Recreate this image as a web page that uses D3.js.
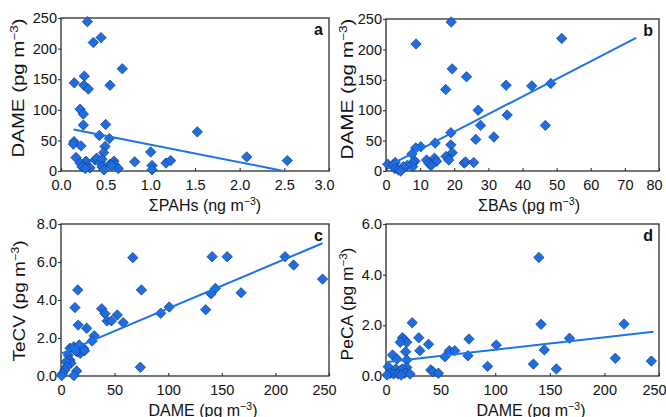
<!DOCTYPE html>
<html>
<head>
<meta charset="utf-8">
<script src="https://cdn.jsdelivr.net/npm/d3@7"></script>
<style>
body { margin: 0; background: #fff; }
text { font-family: "Liberation Sans", Arial, sans-serif; fill: #111; }
</style>
</head>
<body>
<svg id="chart" width="666" height="417"></svg>
<script>
// values
var pahsA = [0.295,0.448,0.362,0.686,0.261,0.149,0.257,0.306,0.549,0.213,
  0.250,0.250,0.500,0.429,0.541,0.146,0.138,0.224,0.493,0.478,
  1.004,1.526,2.079,2.533,0.825,0.168,0.280,0.381,0.400,0.437,
  0.459,0.213,0.235,0.306,0.325,0.459,0.481,0.549,0.593,0.604,
  0.641,0.567,1.019,1.019,1.175,1.228,0.272];
var dameA = [244,218,210,167,155,144,140,134,140,101,
  93,75,76,58,53,48,44,41,40,30,
  31,64,23,17,15,22,16,18,21,14,
  19,13,7,7,5,7,2,11,16,10,
  4,9,9,2,13,17,4];

var basB = [19.1,8.8,51.5,19.4,23.6,17.5,35.2,42.7,48.3,27.0,
  35.5,27.7,46.7,31.6,26.3,19.0,14.4,19.0,10.2,8.7,
  7.6,19.4,17.6,14.2,14.8,11.9,12.5,13.2,18.4,22.9,
  23.3,25.7,8.5,7.8,7.8,6.2,5.1,0.5,2.7,2.1,
  2.6,3.6,4.3];
var dameB = [245,209,218,168,155,134,141,140,144,100,
  92,75,75,56,52,63,46,43,40,38,
  28,30,24,21,16,18,13,9,18,13,
  15,14,16,14,7,9,7,11,14,10,
  4,2,0];

var dameC = [67,141,155,209,217,244,15.6,75,168,144,
  140,13,38,41,43,47,52.5,58,93,101,
  135,16,24,31,29,74,8.4,12,17,18,
  15,21,14,22,6.8,8.4,9.3,4.7,5.3,3.7,
  1.6,0.6,14.6,12];
var tecvC = [6.23,6.28,6.28,6.28,5.84,5.1,4.53,4.53,4.38,4.61,
  4.32,3.6,3.54,3.28,2.9,2.9,3.21,2.81,3.3,3.63,
  3.49,2.68,2.51,2.12,1.84,0.46,1.46,1.54,1.63,1.19,
  1.28,1.46,1.32,1.33,1.1,0.84,0.67,0.75,0.49,0.32,
  0.14,0.02,0.26,0.02];

var dameD = [140,24,142,218,30,15,17,19,13,76,
  168,101,39,31,18,58,63,145,6,54,
  75,10,19,210,243,2,19,93,135,156,
  41,43,48,9,13,15,4,7,11,17,
  22,1,14];
var pecaD = [4.68,2.1,2.04,2.05,1.51,1.51,1.42,1.33,1.33,1.46,
  1.49,1.22,1.25,1.0,0.96,1.0,1.0,1.03,0.83,0.76,
  0.8,0.67,0.63,0.7,0.59,0.37,0.34,0.38,0.47,0.28,
  0.24,0.17,0.11,0.28,0.21,0.28,0.11,0.08,0.08,0.11,
  0.08,0.04,0.04];

// regression lines: [intercept, slope, xStart, xEnd]
var fitA = [72, -28.8, 0.14, 2.48];
var fitB = [6.5, 2.9, 2.1, 73.3];
var fitC = [1.18, 0.0238, 0.6, 244];
var fitD = [0.55, 0.00489, 1.2, 245];

var ticksPAH = [0, 0.5, 1, 1.5, 2, 2.5, 3];
var ticksBA = [0, 10, 20, 30, 40, 50, 60, 70, 80];
var ticksDAME = [0, 50, 100, 150, 200, 250];
var ticksTeCV = [0, 2, 4, 6, 8];
var ticksPeCA = [0, 2, 4, 6];

var svg = d3.select("#chart");
var dotFill = "#1f6de3", dotStroke = "#123a7c", lineColor = "#1a74ee";

function addTitle(parent, main, fontSize) {
  var t = parent.append("text").style("font-size", fontSize + "px");
  t.append("tspan").text(main + " (" + (main.indexOf("PAH") >= 0 ? "ng" : "pg") + " m");
  t.append("tspan").attr("dy", -6).style("font-size", (fontSize * 0.66) + "px").text("\u22123");
  t.append("tspan").attr("dy", 6).text(")");
  return t;
}

function drawPanel(p) {
  var x = d3.scaleLinear().domain([p.xTicks[0], p.xTicks[p.xTicks.length - 1]]).range([p.left, p.right]);
  var y = d3.scaleLinear().domain([p.yTicks[0], p.yTicks[p.yTicks.length - 1]]).range([p.bottom, p.top]);

  var gx = svg.append("g")
    .attr("transform", "translate(0," + p.bottom + ")")
    .call(d3.axisBottom(x).tickValues(p.xTicks).tickSize(-3).tickPadding(9).tickFormat(p.xFmt));
  var gy = svg.append("g")
    .attr("transform", "translate(" + p.left + ",0)")
    .call(d3.axisLeft(y).tickValues(p.yTicks).tickSize(3).tickPadding(1).tickFormat(p.yFmt));
  [gx, gy].forEach(function (g) {
    g.select(".domain").remove();
    g.selectAll("line").attr("stroke", "#333").attr("stroke-width", 1.1);
    g.selectAll("text").style("font-size", "14.5px").style("font-family", '"Liberation Sans", Arial, sans-serif').attr("fill", "#111");
  });
  // last x label sits a little inside the frame
  gx.selectAll(".tick text").filter(function (d, i) { return i === p.xTicks.length - 1; }).attr("dx", -5);

  svg.append("rect")
    .attr("x", p.left).attr("y", p.top)
    .attr("width", p.right - p.left).attr("height", p.bottom - p.top)
    .attr("fill", "none").attr("stroke", "#2b2b2b").attr("stroke-width", 1.3);

  var pts = p.xs.map(function (v, i) { return [v, p.ys[i]]; });
  svg.append("g").selectAll("path")
    .data(pts)
    .enter().append("path")
    .attr("d", "M0,-5.2L5.2,0L0,5.2L-5.2,0Z")
    .attr("transform", function (d) { return "translate(" + x(d[0]) + "," + y(d[1]) + ")"; })
    .attr("fill", dotFill)
    .attr("stroke", dotStroke)
    .attr("stroke-width", 0.7);

  var fit = p.fit;
  var line = d3.line().x(function (d) { return x(d); }).y(function (d) { return y(fit[0] + fit[1] * d); });
  svg.append("path")
    .datum([fit[2], fit[3]])
    .attr("d", line)
    .attr("fill", "none")
    .attr("stroke", lineColor)
    .attr("stroke-width", 2);

  // x title
  var xt = addTitle(svg.append("g").attr("transform", "translate(" + p.xtX + "," + p.xtY + ")"), p.xLabel, 16);
  xt.attr("text-anchor", "middle");

  // y title, stretched along its length like the original
  var yg = svg.append("g").attr("transform", "translate(" + p.ytX + "," + p.ytY + ") rotate(-90)");
  var yt = addTitle(yg, p.yLabel, 16).attr("text-anchor", "middle");
  var len = yt.node().getComputedTextLength();
  yt.attr("transform", "scale(" + (p.ytLen / len) + ",1)");

  svg.append("text")
    .attr("x", p.right - 6).attr("y", p.top + 17)
    .attr("text-anchor", "end")
    .style("font-size", "16px").style("font-weight", "bold")
    .text(p.tag);
}

var f0 = d3.format("d"), f1 = d3.format(".1f");

drawPanel({ left: 61, right: 329, top: 18, bottom: 171, xs: pahsA, ys: dameA, fit: fitA,
  xTicks: ticksPAH, yTicks: ticksDAME, xFmt: f1, yFmt: f0,
  xLabel: "\u03a3PAHs", yLabel: "DAME", xtX: 205, xtY: 211, ytX: 24, ytY: 88, ytLen: 139, tag: "a" });
drawPanel({ left: 386, right: 659, top: 19, bottom: 171, xs: basB, ys: dameB, fit: fitB,
  xTicks: ticksBA, yTicks: ticksDAME, xFmt: f0, yFmt: f0,
  xLabel: "\u03a3BAs", yLabel: "DAME", xtX: 529, xtY: 211, ytX: 353, ytY: 89, ytLen: 141, tag: "b" });
drawPanel({ left: 61, right: 329, top: 224, bottom: 376, xs: dameC, ys: tecvC, fit: fitC,
  xTicks: ticksDAME, yTicks: ticksTeCV, xFmt: f0, yFmt: f1,
  xLabel: "DAME", yLabel: "TeCV", xtX: 203, xtY: 416, ytX: 25, ytY: 301, ytLen: 121, tag: "c" });
drawPanel({ left: 386, right: 659, top: 224, bottom: 376, xs: dameD, ys: pecaD, fit: fitD,
  xTicks: ticksDAME, yTicks: ticksPeCA, xFmt: f0, yFmt: f1,
  xLabel: "DAME", yLabel: "PeCA", xtX: 531, xtY: 416, ytX: 353, ytY: 304, ytLen: 113, tag: "d" });
</script>
</body>
</html>
